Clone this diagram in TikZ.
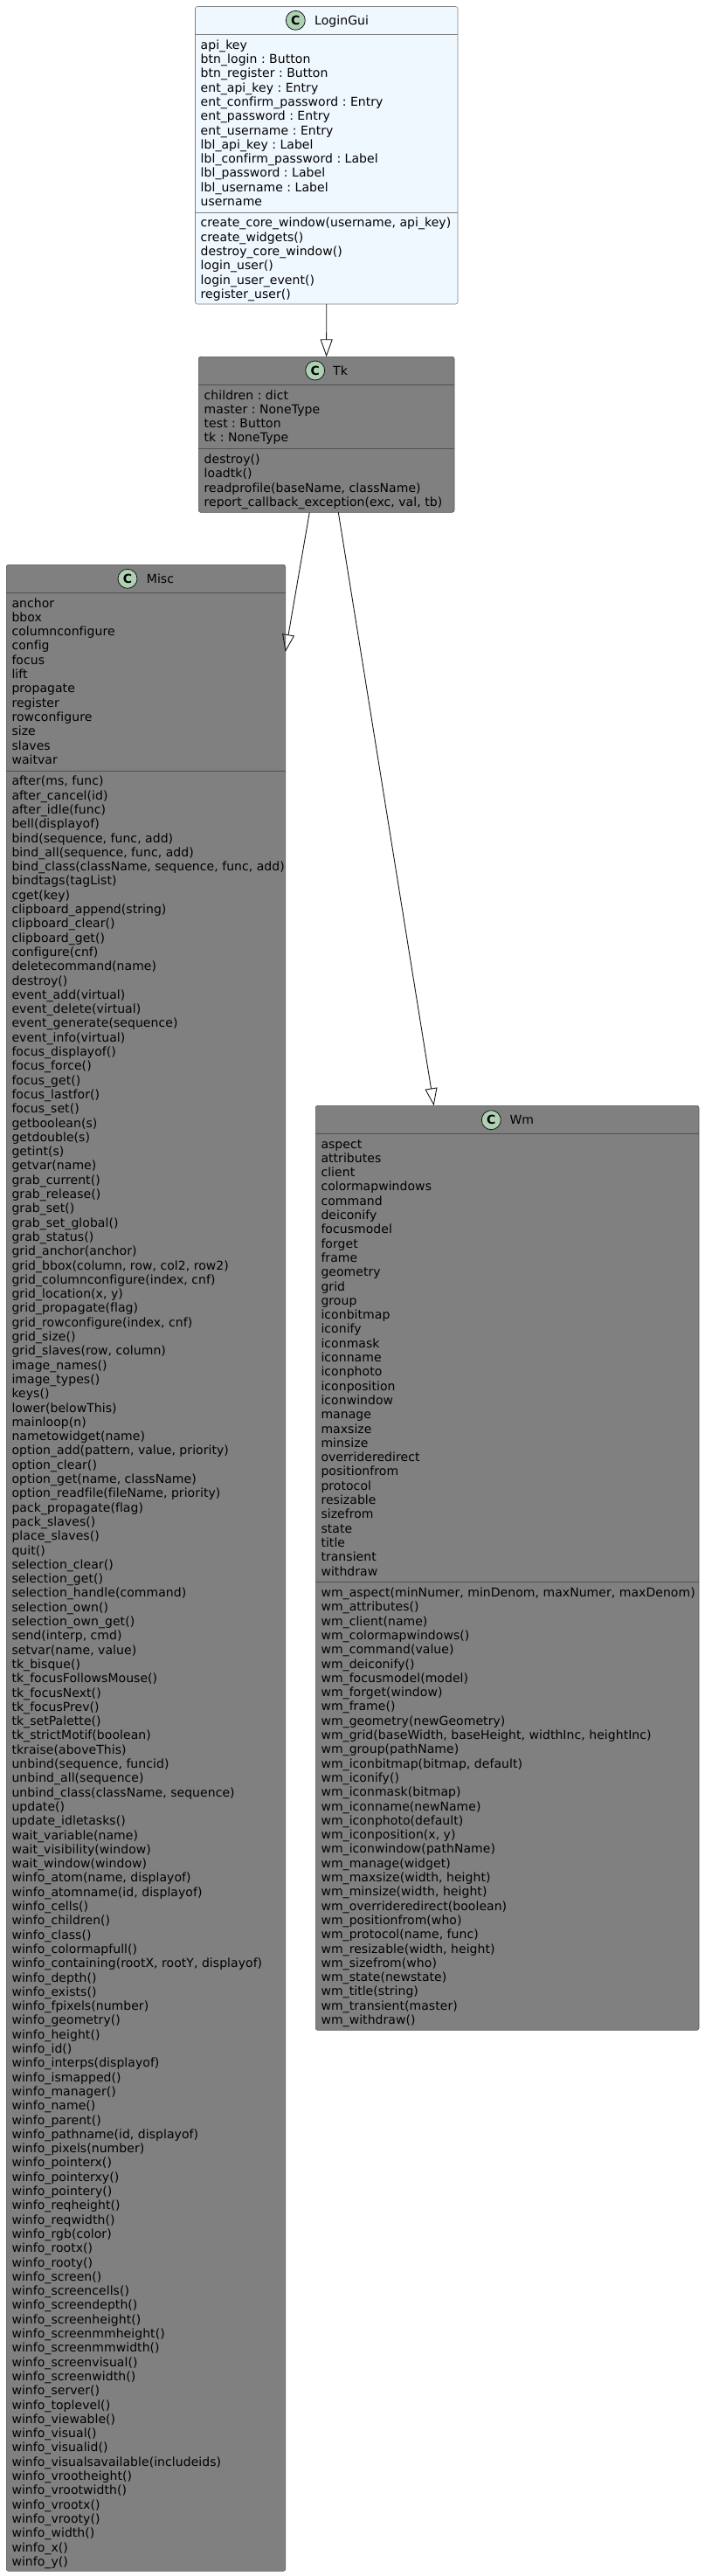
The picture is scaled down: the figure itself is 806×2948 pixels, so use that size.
\documentclass[tikz,border=0pt]{standalone}
\usepackage{fontspec}
\setmainfont{DejaVu Sans}[LetterSpace=0.4, Ligatures=NoCommon]
\usepackage{tikz}
\usetikzlibrary{arrows.meta, positioning}
\definecolor{aliceblue}{HTML}{F0F8FF}
\definecolor{classgray}{HTML}{808080}
\definecolor{spotgreen}{HTML}{ADD1B2}
\definecolor{darkline}{HTML}{181818}
\newenvironment{rowlist}{\begin{tabular}{@{}l@{}}\rule{0pt}{13pt}}{\end{tabular}}
\frenchspacing

\begin{document}
\begin{tikzpicture}[x=1pt, y=-1pt,
                    box/.style={
                    draw=darkline!45!classgray,
                    fill=classgray,
                    line width=0.6pt,
                    rounded corners=2.5pt,
                    inner sep=0pt,
                    outer sep=0pt,
                    anchor=center,
                }, spot/.style={
                    draw=darkline,
                    fill=spotgreen,
                    circle,
                    line width=0.8pt,
                    minimum size=22pt,
                    inner sep=0pt,
                    font=\fontsize{14}{16.3}\selectfont\bfseries,
                }, title/.style={
                    anchor=base west,
                    inner sep=0pt,
                    font=\fontsize{14}{16.3}\selectfont,
                }, rows/.style={
                    anchor=north west,
                    inner sep=0pt,
                    font=\fontsize{14}{16.3}\selectfont,
                }, rule/.style={
                    draw=darkline!45!classgray,
                    line width=0.6pt,
                }, inherit/.style={
                    draw=darkline,
                    line width=0.9pt,
                    -{Triangle[open, length=20pt, width=14pt]},
                }, ]
\useasboundingbox (0,0) rectangle (806,2948);

% ------ LoginGui ------- %
\draw (373.75,177.75) node[box, fill=aliceblue, draw=classgray, minimum width=300.5pt, minimum height=340.5pt](login_gui){};
\node[spot] (login_gui_spot) at (338.3,23.3) {C};
\node[title] (login_gui_title) at (360,28.4) {LoginGui};
\draw[rule, draw=classgray] (login_gui.west |- 0,39.5) -- (login_gui.east |- 0,39.5);
\draw[rule, draw=classgray] (login_gui.west |- 0,243) -- (login_gui.east |- 0,243);
\node[rows] (login_gui_attrs) at (229.5,43) {\begin{rowlist}api\_key\\btn\_login : Button\\btn\_register : Button\\ent\_api\_key : Entry\\ent\_confirm\_password : Entry\\ent\_password : Entry\\ent\_username : Entry\\lbl\_api\_key : Label\\lbl\_confirm\_password : Label\\lbl\_password : Label\\lbl\_username : Label\\username\end{rowlist}};
\node[rows] (login_gui_methods) at (229.5,246.7) {\begin{rowlist}create\_core\_window(username, api\_key)\\create\_widgets()\\destroy\_core\_window()\\login\_user()\\login\_user\_event()\\register\_user()\end{rowlist}};

% ------ Tk ------- %
\draw (373.65,497.3) node[box, minimum width=292.7pt, minimum height=178pt](tk){};
\node[spot] (tk_spot) at (360.7,424) {C};
\node[title] (tk_title) at (381,429.2) {Tk};
\draw[rule] (tk.west |- 0,440.3) -- (tk.east |- 0,440.3);
\draw[rule] (tk.west |- 0,513.5) -- (tk.east |- 0,513.5);
\node[rows] (tk_attrs) at (233.5,443.8) {\begin{rowlist}children : dict\\master : NoneType\\test : Button\\tk : NoneType\end{rowlist}};
\node[rows] (tk_methods) at (233.5,517.2) {\begin{rowlist}destroy()\\loadtk()\\readprofile(baseName, className)\\report\_callback\_exception(exc, val, tb)\end{rowlist}};

% ------ Misc ------- %
\draw (167,1794.3) node[box, minimum width=319.4pt, minimum height=2296pt](misc){};
\node[spot] (misc_spot) at (146,662.3) {C};
\node[title] (misc_title) at (167.7,667.4) {Misc};
\draw[rule] (misc.west |- 0,678.3) -- (misc.east |- 0,678.3);
\draw[rule] (misc.west |- 0,881.9) -- (misc.east |- 0,881.9);
\node[rows] (misc_attrs) at (13.3,681.8) {\begin{rowlist}anchor\\bbox\\columnconfigure\\config\\focus\\lift\\propagate\\register\\rowconfigure\\size\\slaves\\waitvar\end{rowlist}};
\node[rows] (misc_methods) at (13.3,885.6) {\begin{rowlist}after(ms, func)\\after\_cancel(id)\\after\_idle(func)\\bell(displayof)\\bind(sequence, func, add)\\bind\_all(sequence, func, add)\\bind\_class(className, sequence, func, add)\\bindtags(tagList)\\cget(key)\\clipboard\_append(string)\\clipboard\_clear()\\clipboard\_get()\\configure(cnf)\\deletecommand(name)\\destroy()\\event\_add(virtual)\\event\_delete(virtual)\\event\_generate(sequence)\\event\_info(virtual)\\focus\_displayof()\\focus\_force()\\focus\_get()\\focus\_lastfor()\\focus\_set()\\getboolean(s)\\getdouble(s)\\getint(s)\\getvar(name)\\grab\_current()\\grab\_release()\\grab\_set()\\grab\_set\_global()\\grab\_status()\\grid\_anchor(anchor)\\grid\_bbox(column, row, col2, row2)\\grid\_columnconfigure(index, cnf)\\grid\_location(x, y)\\grid\_propagate(flag)\\grid\_rowconfigure(index, cnf)\\grid\_size()\\grid\_slaves(row, column)\\image\_names()\\image\_types()\\keys()\\lower(belowThis)\\mainloop(n)\\nametowidget(name)\\option\_add(pattern, value, priority)\\option\_clear()\\option\_get(name, className)\\option\_readfile(fileName, priority)\\pack\_propagate(flag)\\pack\_slaves()\\place\_slaves()\\quit()\\selection\_clear()\\selection\_get()\\selection\_handle(command)\\selection\_own()\\selection\_own\_get()\\send(interp, cmd)\\setvar(name, value)\\tk\_bisque()\\tk\_focusFollowsMouse()\\tk\_focusNext()\\tk\_focusPrev()\\tk\_setPalette()\\tk\_strictMotif(boolean)\\tkraise(aboveThis)\\unbind(sequence, funcid)\\unbind\_all(sequence)\\unbind\_class(className, sequence)\\update()\\update\_idletasks()\\wait\_variable(name)\\wait\_visibility(window)\\wait\_window(window)\\winfo\_atom(name, displayof)\\winfo\_atomname(id, displayof)\\winfo\_cells()\\winfo\_children()\\winfo\_class()\\winfo\_colormapfull()\\winfo\_containing(rootX, rootY, displayof)\\winfo\_depth()\\winfo\_exists()\\winfo\_fpixels(number)\\winfo\_geometry()\\winfo\_height()\\winfo\_id()\\winfo\_interps(displayof)\\winfo\_ismapped()\\winfo\_manager()\\winfo\_name()\\winfo\_parent()\\winfo\_pathname(id, displayof)\\winfo\_pixels(number)\\winfo\_pointerx()\\winfo\_pointerxy()\\winfo\_pointery()\\winfo\_reqheight()\\winfo\_reqwidth()\\winfo\_rgb(color)\\winfo\_rootx()\\winfo\_rooty()\\winfo\_screen()\\winfo\_screencells()\\winfo\_screendepth()\\winfo\_screenheight()\\winfo\_screenmmheight()\\winfo\_screenmmwidth()\\winfo\_screenvisual()\\winfo\_screenwidth()\\winfo\_server()\\winfo\_toplevel()\\winfo\_viewable()\\winfo\_visual()\\winfo\_visualid()\\winfo\_visualsavailable(includeids)\\winfo\_vrootheight()\\winfo\_vrootwidth()\\winfo\_vrootx()\\winfo\_vrooty()\\winfo\_width()\\winfo\_x()\\winfo\_y()\end{rowlist}};

% ------ Wm ------- %
\draw (580.65,1794.3) node[box, minimum width=438.7pt, minimum height=1058pt](wm){};
\node[spot] (wm_spot) at (562.3,1281.7) {C};
\node[title] (wm_title) at (583.3,1286.4) {Wm};
\draw[rule] (wm.west |- 0,1297.3) -- (wm.east |- 0,1297.3);
\draw[rule] (wm.west |- 0,1810.6) -- (wm.east |- 0,1810.6);
\node[rows] (wm_attrs) at (367.3,1300.8) {\begin{rowlist}aspect\\attributes\\client\\colormapwindows\\command\\deiconify\\focusmodel\\forget\\frame\\geometry\\grid\\group\\iconbitmap\\iconify\\iconmask\\iconname\\iconphoto\\iconposition\\iconwindow\\manage\\maxsize\\minsize\\overrideredirect\\positionfrom\\protocol\\resizable\\sizefrom\\state\\title\\transient\\withdraw\end{rowlist}};
\node[rows] (wm_methods) at (367.3,1814.3) {\begin{rowlist}wm\_aspect(minNumer, minDenom, maxNumer, maxDenom)\\wm\_attributes()\\wm\_client(name)\\wm\_colormapwindows()\\wm\_command(value)\\wm\_deiconify()\\wm\_focusmodel(model)\\wm\_forget(window)\\wm\_frame()\\wm\_geometry(newGeometry)\\wm\_grid(baseWidth, baseHeight, widthInc, heightInc)\\wm\_group(pathName)\\wm\_iconbitmap(bitmap, default)\\wm\_iconify()\\wm\_iconmask(bitmap)\\wm\_iconname(newName)\\wm\_iconphoto(default)\\wm\_iconposition(x, y)\\wm\_iconwindow(pathName)\\wm\_manage(widget)\\wm\_maxsize(width, height)\\wm\_minsize(width, height)\\wm\_overrideredirect(boolean)\\wm\_positionfrom(who)\\wm\_protocol(name, func)\\wm\_resizable(width, height)\\wm\_sizefrom(who)\\wm\_state(newstate)\\wm\_title(string)\\wm\_transient(master)\\wm\_withdraw()\end{rowlist}};

% ------ Inheritance ------- %
\draw[inherit] (login_gui.south) -- (tk.north);
\draw[inherit] ([xshift=-19.35pt]tk.south) -- ([yshift=-99.7pt]misc.north east);
\draw[inherit] ([xshift=13.65pt]tk.south) -- ([xshift=-84pt]wm.north);

\end{tikzpicture}
\end{document}
